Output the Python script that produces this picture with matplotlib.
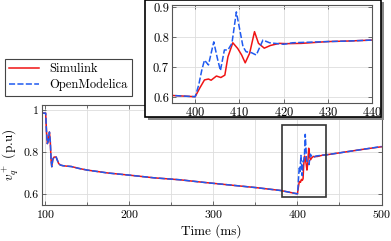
import numpy as np
import matplotlib
matplotlib.use("Agg")
import matplotlib.pyplot as plt
from matplotlib.patches import Rectangle
from matplotlib.ticker import MultipleLocator, FuncFormatter

plt.rcParams['font.family'] = 'serif'
plt.rcParams['font.serif'] = ['cmr10']
plt.rcParams['mathtext.fontset'] = 'cm'
plt.rcParams['axes.formatter.use_mathtext'] = True

# shared part of both curves (before the second event)
t_pre = [96, 100.5, 101.5, 102.5, 103.5, 105.0, 106.0, 107.0, 107.8, 109.0, 110.5, 113.0,
         114.5, 116.0, 118.0, 121.0, 125.0, 131.0, 140.0, 150.0, 175.0, 200.0, 230.0,
         260.0, 290.0, 320.0, 350.0, 380.0, 400.0]
v_pre = [0.985, 0.985, 0.90, 0.84, 0.85, 0.895, 0.85, 0.76, 0.73, 0.765, 0.776, 0.776,
         0.76, 0.745, 0.738, 0.735, 0.733, 0.731, 0.722, 0.714, 0.70, 0.69, 0.677,
         0.668, 0.655, 0.643, 0.631, 0.617, 0.601]

# Simulink after 400 ms
t_sim = [401.0, 402.1, 403.0, 403.6, 404.8, 405.8, 406.7, 407.4, 408.5, 409.6, 410.5,
         411.3, 412.3, 413.4, 414.3, 415.6, 417.0, 419.0, 420.6, 424.0, 426.0, 430.0,
         435.0, 440.0, 460.0, 480.0, 500.0]
v_sim = [0.629, 0.657, 0.660, 0.656, 0.670, 0.665, 0.673, 0.734, 0.781, 0.762, 0.740,
         0.714, 0.746, 0.818, 0.779, 0.763, 0.772, 0.779, 0.778, 0.779, 0.781, 0.785,
         0.787, 0.790, 0.802, 0.814, 0.825]

# OpenModelica after 400 ms
t_om = [400.8, 401.5, 402.1, 403.0, 404.2, 405.0, 405.7, 406.6, 407.4, 408.3, 409.3,
        410.0, 410.8, 411.5, 412.7, 413.8, 415.3, 416.8, 418.0, 420.0, 422.0, 426.0,
        430.0, 435.0, 440.0, 460.0, 480.0, 500.0]
v_om = [0.640, 0.690, 0.723, 0.707, 0.784, 0.730, 0.688, 0.757, 0.757, 0.779, 0.884,
        0.830, 0.768, 0.751, 0.748, 0.740, 0.790, 0.781, 0.779, 0.776, 0.781, 0.783,
        0.785, 0.787, 0.790, 0.802, 0.814, 0.826]

t1 = t_pre + t_sim
v1 = v_pre + v_sim
t2 = t_pre + t_om
v2 = v_pre + v_om

red = '#f01414'
blue = '#1f5af0'
W, H = 391, 241

fig = plt.figure(figsize=(W/100, H/100), dpi=100)

def style(ax):
    for s in ax.spines.values():
        s.set_color('#555555')
        s.set_linewidth(0.8)
    ax.tick_params(direction='in', which='both', top=True, right=True,
                   length=3, width=0.6, color='#555555', labelsize=8.5, pad=2)
    ax.tick_params(which='minor', length=2)
    ax.grid(True, which='both', color='#dddddd', lw=0.6)
    ax.set_axisbelow(True)

# main axes
ax = fig.add_axes([41.7/W, 1-205/H, (381.5-41.7)/W, (205-104.7)/H], zorder=0)
ax.plot(t1, v1, color=red, lw=1.1, label='Simulink')
ax.plot(t2, v2, color=blue, lw=1.1, dashes=(4, 1.5), label='OpenModelica')
ax.set_xlim(95.8, 500)
ax.set_ylim(0.548, 1.025)
ax.xaxis.set_major_locator(MultipleLocator(100))
ax.xaxis.set_minor_locator(MultipleLocator(50))
ax.set_yticks([0.6, 0.8, 1.0])
ax.yaxis.set_major_formatter(FuncFormatter(lambda v, p: '{:g}'.format(round(v, 2))))
style(ax)
ax.set_xlabel('Time (ms)', fontsize=9.5, labelpad=3)
ax.set_ylabel(r'$v_q^+$ (p.u)', fontsize=9.5, labelpad=2)
ax.add_patch(Rectangle((382, 0.585), 52.5, 0.345, fill=False, ec='#333333', lw=1.2, zorder=5))

# inset frame with a thin shadow
fig.add_artist(Rectangle((147.5/W, 1-119.5/H), (383.5-147.5)/W, 117/H, transform=fig.transFigure,
                         fc='#888888', ec='none', zorder=1))
fig.add_artist(Rectangle((145/W, 1-117/H), (381-145)/W, 117/H, transform=fig.transFigure,
                         fc='white', ec='black', lw=1.2, zorder=1.5))

axi = fig.add_axes([171.7/W, 1-103/H, (372.3-171.7)/W, (103-5)/H], zorder=2)
axi.plot(t1, v1, color=red, lw=1.1)
axi.plot(t2, v2, color=blue, lw=1.1, dashes=(4, 1.5))
axi.set_xlim(394.7, 440)
axi.set_ylim(0.58, 0.907)
axi.set_xticks([400, 410, 420, 430, 440])
axi.set_yticks([0.6, 0.7, 0.8, 0.9])
axi.yaxis.set_major_formatter(FuncFormatter(lambda v, p: '{:.1f}'.format(v)))
style(axi)
axi.tick_params(labelsize=9)

leg = fig.legend(loc='upper left', bbox_to_anchor=(5/W, 1-59/H), fontsize=9,
                 fancybox=False, edgecolor='#444444', framealpha=1,
                 handlelength=2.4, borderpad=0.35, labelspacing=0.25,
                 handletextpad=0.8, borderaxespad=0)
leg.get_frame().set_linewidth(0.8)

fig.savefig('out.png', dpi=100)
